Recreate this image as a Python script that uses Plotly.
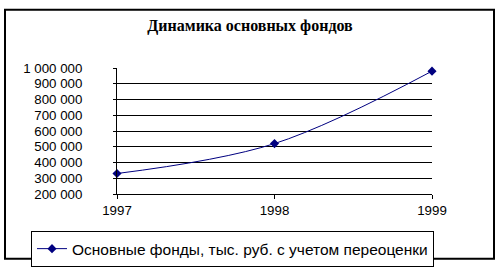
import plotly.graph_objects as go

years = [1997, 1998, 1999]
values = [330000, 520000, 980000]
series_name = "Основные фонды, тыс. руб. с учетом переоценки"
title = "Динамика основных фондов"
y_ticks = [200000, 300000, 400000, 500000, 600000, 700000, 800000, 900000, 1000000]
y_labels = ["200 000", "300 000", "400 000", "500 000", "600 000", "700 000", "800 000", "900 000", "1 000 000"]

W, H = 500, 279
L, R, T, B = 117, 68, 68, 75
pw, ph = W - L - R, H - T - B

def px(x):
    return (x - L) / pw

def py(y):
    return (H - B - y) / ph

fig = go.Figure()
fig.add_trace(go.Scatter(
    x=years, y=values, name=series_name, mode="lines+markers",
    line=dict(color="#000080", width=1, shape="spline", smoothing=1),
    marker=dict(symbol="diamond", size=7, color="#000080"),
    cliponaxis=False,
))

fig.update_layout(
    width=W, height=H,
    margin=dict(l=L, r=R, t=T, b=B),
    paper_bgcolor="white", plot_bgcolor="white",
    font=dict(family="Liberation Sans, Arial", size=13.3, color="black"),
    title=dict(text="<b>" + title + "</b>", x=0.5, xanchor="center", y=1 - 25 / H, yanchor="middle",
               font=dict(family="Liberation Serif, Times New Roman", size=16, color="black")),
    showlegend=True,
    legend=dict(orientation="h", x=px(31), y=py(244), xanchor="left", yanchor="top",
                bordercolor="black", borderwidth=1, bgcolor="white",
                font=dict(family="Liberation Sans, Arial", size=15.5, color="black"),
                itemwidth=30, tracegroupgap=0),
    xaxis=dict(range=[1997, 1999], tickvals=years, ticktext=[str(y) for y in years],
               showgrid=False, zeroline=False, showline=True, linecolor="black", linewidth=1,
               ticks="outside", ticklen=4, tickcolor="black", fixedrange=True),
    yaxis=dict(range=[200000, 1000000], tickvals=y_ticks, ticktext=y_labels,
               showgrid=True, gridcolor="black", gridwidth=1, zeroline=False,
               showline=True, linecolor="black", linewidth=1,
               ticks="outside", ticklen=3, tickcolor="black", ticklabelstandoff=28),
)

fig.add_shape(type="rect", xref="paper", yref="paper",
              x0=px(5), x1=px(494), y0=py(274), y1=py(5),
              line=dict(color="black", width=2), fillcolor="rgba(0,0,0,0)", layer="below")

fig.write_html("out.html")
